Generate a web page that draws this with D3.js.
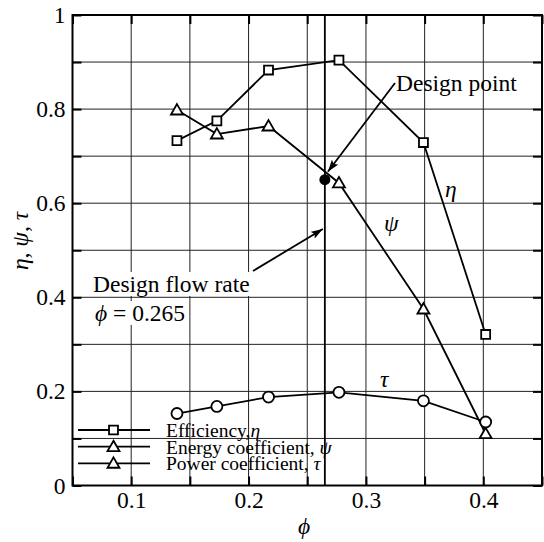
<!DOCTYPE html>
<html>
<head>
<meta charset="utf-8">
<script src="https://cdn.jsdelivr.net/npm/d3@7/dist/d3.min.js"></script>
<style>
  html, body { margin: 0; padding: 0; background: #fff; }
  svg { display: block; }
  svg text { font-family: "Liberation Serif", "Times New Roman", Times, "DejaVu Serif", serif; }
</style>
</head>
<body>
<svg id="chart" width="544" height="542"></svg>
<script>
// Flow coefficient at each measured operating point
const phi = [0.139, 0.173, 0.217, 0.277, 0.349, 0.402];
// Efficiency, energy coefficient and power coefficient
const eta = [0.733, 0.775, 0.883, 0.904, 0.729, 0.321];
const psi = [0.798, 0.747, 0.764, 0.643, 0.375, 0.110];
const tau = [0.153, 0.168, 0.188, 0.198, 0.180, 0.135];

// Design condition
const designPhi = 0.265;
const designValue = 0.65;

// Axis ticks and grid
const xTicks = [0.05, 0.1, 0.15, 0.2, 0.25, 0.3, 0.35, 0.4, 0.45];
const xLabels = [0.1, 0.2, 0.3, 0.4];
const yTicks = [0, 0.1, 0.2, 0.3, 0.4, 0.5, 0.6, 0.7, 0.8, 0.9, 1];
const yLabels = [0, 0.2, 0.4, 0.6, 0.8, 1];

const SERIF = "Liberation Serif, Times New Roman, Times, DejaVu Serif, serif";
const FS = 23.5;

const svg = d3.select("#chart");
const x = d3.scaleLinear().domain([0.05, 0.45]).range([72.5, 542]);
const y = d3.scaleLinear().domain([0, 1]).range([485.5, 15]);
const [x0, x1] = x.range();
const [y0, y1] = y.range();

const fmt = d => (d === 0 ? "0" : d === 1 ? "1" : d3.format(".1f")(d));
const isLabel = (arr, d) => arr.some(v => Math.abs(v - d) < 1e-9);

// Grid
const grid = svg.append("g").attr("stroke", "#222").attr("stroke-width", 1);
grid.selectAll("line.gx").data(xTicks.slice(1, -1)).join("line")
  .attr("x1", d => x(d)).attr("x2", d => x(d)).attr("y1", y0).attr("y2", y1);
grid.selectAll("line.gy").data(yTicks.slice(1, -1)).join("line")
  .attr("y1", d => y(d)).attr("y2", d => y(d)).attr("x1", x0).attr("x2", x1);

// Axes with inward ticks on all sides
const tickLen = 9;
function styleAxis(g) {
  g.attr("font-family", SERIF).attr("font-size", FS);
  g.select(".domain").remove();
  g.selectAll(".tick line").attr("stroke", "#000").attr("stroke-width", 2);
  g.selectAll(".tick text").attr("fill", "#000");
}
svg.append("g").attr("transform", `translate(0,${y0})`)
  .call(d3.axisBottom(x).tickValues(xTicks).tickSize(-tickLen).tickPadding(6)
    .tickFormat(d => isLabel(xLabels, d) ? fmt(d) : ""))
  .call(styleAxis);
svg.append("g").attr("transform", `translate(0,${y1})`)
  .call(d3.axisTop(x).tickValues(xTicks).tickSize(-tickLen).tickFormat(""))
  .call(styleAxis);
svg.append("g").attr("transform", `translate(${x0},0)`)
  .call(d3.axisLeft(y).tickValues(yTicks).tickSize(-tickLen).tickPadding(7)
    .tickFormat(d => isLabel(yLabels, d) ? fmt(d) : ""))
  .call(styleAxis);
svg.append("g").attr("transform", `translate(${x1},0)`)
  .call(d3.axisRight(y).tickValues(yTicks).tickSize(-tickLen).tickFormat(""))
  .call(styleAxis);

// Frame
svg.append("rect").attr("x", x0).attr("y", y1)
  .attr("width", x1 - x0).attr("height", y0 - y1)
  .attr("fill", "none").attr("stroke", "#000").attr("stroke-width", 2);

// Design flow rate line
svg.append("line").attr("x1", x(designPhi)).attr("x2", x(designPhi))
  .attr("y1", y0).attr("y2", y1).attr("stroke", "#000").attr("stroke-width", 1.8);

// Arrowhead marker
const defs = svg.append("defs");
defs.append("marker").attr("id", "head").attr("viewBox", "0 0 12 8")
  .attr("refX", 12).attr("refY", 4).attr("markerWidth", 12).attr("markerHeight", 8)
  .attr("markerUnits", "userSpaceOnUse").attr("orient", "auto")
  .append("path").attr("d", "M0,0 L12,4 L0,8 L2.5,4 Z").attr("fill", "#000");

// Marker shapes
const symSquare = d3.symbol().type(d3.symbolSquare).size(80);
const symTriangle = d3.symbol().type(d3.symbolTriangle).size(62);

const series = [
  { values: eta, shape: "square" },
  { values: psi, shape: "triangle" },
  { values: tau, shape: "circle" }
];
const line = d3.line().x(d => x(d[0])).y(d => y(d[1]));

series.forEach(s => {
  const pts = phi.map((p, i) => [p, s.values[i]]);
  svg.append("path").datum(pts).attr("d", line)
    .attr("fill", "none").attr("stroke", "#000").attr("stroke-width", 1.8);
});

function drawMarker(g, shape, cx, cy) {
  if (shape === "circle") {
    g.append("circle").attr("cx", cx).attr("cy", cy).attr("r", 5.5)
      .attr("fill", "#fff").attr("stroke", "#000").attr("stroke-width", 1.8);
  } else {
    g.append("path").attr("d", shape === "square" ? symSquare() : symTriangle())
      .attr("transform", `translate(${cx},${cy + (shape === "triangle" ? 1 : 0)})`)
      .attr("fill", "#fff").attr("stroke", "#000").attr("stroke-width", 1.8);
  }
}
series.forEach(s => {
  const g = svg.append("g");
  phi.forEach((p, i) => drawMarker(g, s.shape, x(p), y(s.values[i])));
});

// Design point
svg.append("circle").attr("cx", x(designPhi)).attr("cy", y(designValue))
  .attr("r", 5.5).attr("fill", "#000");

// Design point annotation
svg.append("line").attr("x1", 395).attr("y1", 83).attr("x2", x(designPhi) + 3).attr("y2", y(designValue) - 8)
  .attr("stroke", "#000").attr("stroke-width", 1.8).attr("marker-end", "url(#head)");
svg.append("text").attr("x", 396).attr("y", 91).attr("font-family", SERIF)
  .attr("font-size", FS).text("Design point");

// Design flow rate annotation (white backing behind text)
const ann = svg.append("g").attr("font-family", SERIF).attr("font-size", FS);
const t1 = ann.append("text").attr("x", 93).attr("y", 292).text("Design flow rate");
const t2 = ann.append("text").attr("x", 95).attr("y", 321);
t2.append("tspan").attr("font-style", "italic").text("\u03D5");
t2.append("tspan").text(" = 0.265");
[t1, t2].forEach(t => {
  const b = t.node().getBBox();
  ann.insert("rect", "text").attr("x", b.x - 2).attr("y", b.y + 1)
    .attr("width", b.width + 4).attr("height", b.height - 2).attr("fill", "#fff");
});
svg.append("line").attr("x1", 253).attr("y1", 271).attr("x2", x(designPhi) - 2).attr("y2", 229)
  .attr("stroke", "#000").attr("stroke-width", 1.8).attr("marker-end", "url(#head)");

// Curve labels
const curveLabels = [
  { t: "\u03B7", px: 445, py: 197 },
  { t: "\u03C8", px: 384, py: 231 },
  { t: "\u03C4", px: 380, py: 387 }
];
svg.selectAll("text.curve").data(curveLabels).join("text")
  .attr("x", d => d.px).attr("y", d => d.py).attr("font-family", SERIF).attr("font-size", FS)
  .attr("font-style", "italic").text(d => d.t);

// Legend
const legendItems = [
  { shape: "square", parts: [["Efficiency,", false], ["\u03B7", true]] },
  { shape: "triangle", parts: [["Energy coefficient, ", false], ["\u03C8", true]] },
  { shape: "triangle", parts: [["Power coefficient, ", false], ["\u03C4", true]] }
];
const legendY = [430, 446.7, 463.3];
legendItems.forEach((it, i) => {
  const g = svg.append("g");
  const ly = legendY[i];
  g.append("line").attr("x1", 78).attr("x2", 150).attr("y1", ly).attr("y2", ly)
    .attr("stroke", "#000").attr("stroke-width", 1.8);
  drawMarker(g, it.shape, 113.5, ly);
  const t = g.append("text").attr("x", 166).attr("y", ly + 7)
    .attr("font-family", SERIF).attr("font-size", 19.5);
  it.parts.forEach(p => t.append("tspan").attr("font-style", p[1] ? "italic" : null).text(p[0]));
});

// Axis titles
svg.append("text").attr("x", 304).attr("y", 534).attr("text-anchor", "middle")
  .attr("font-family", SERIF).attr("font-size", FS).attr("font-style", "italic").text("\u03D5");
const yt = svg.append("text").attr("transform", "translate(28,241) rotate(-90)")
  .attr("text-anchor", "middle").attr("font-family", SERIF).attr("font-size", FS);
[["\u03B7", true], [", ", false], ["\u03C8", true], [", ", false], ["\u03C4", true]]
  .forEach(p => yt.append("tspan").attr("font-style", p[1] ? "italic" : null).text(p[0]));
</script>
</body>
</html>
